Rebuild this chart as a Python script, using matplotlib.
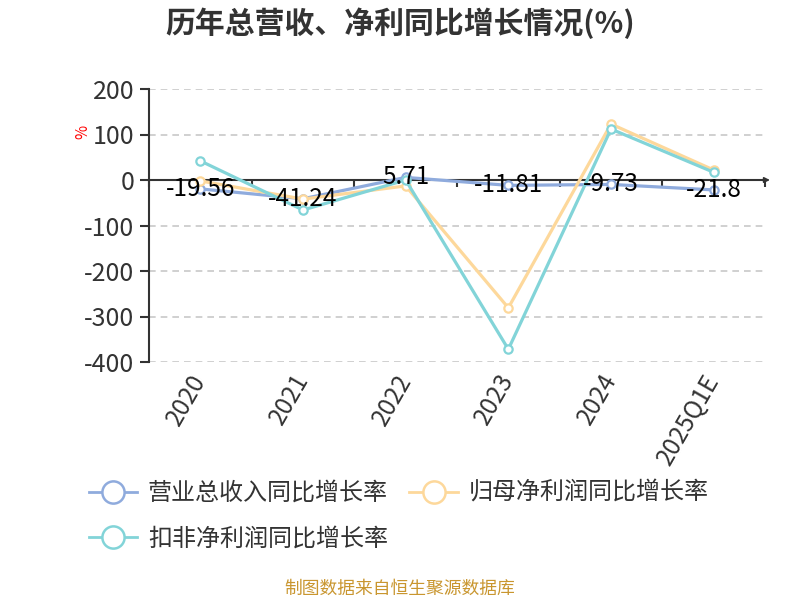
import numpy as np
import matplotlib
matplotlib.use("Agg")
import matplotlib.pyplot as plt
from matplotlib.lines import Line2D

plt.rcParams['font.family'] = ['Noto Sans CJK SC', 'DejaVu Sans']
plt.rcParams['axes.unicode_minus'] = False

# ── data ────────────────────────────────────────────────
categories = ["2020", "2021", "2022", "2023", "2024", "2025Q1E"]
revenue_growth = [-19.56, -41.24, 5.71, -11.81, -9.73, -21.8]
net_profit_growth = [-2, -42, -13, -281, 123, 22]
deducted_profit_growth = [42, -66, 0, -372, 112, 17]
label_texts = ["-19.56", "-41.24", "5.71", "-11.81", "-9.73", "-21.8"]

series_names = ["营业总收入同比增长率", "归母净利润同比增长率", "扣非净利润同比增长率"]
series_colors = ["#8fabdd", "#fdd89b", "#82d4d8"]
y_ticks = [-400, -300, -200, -100, 0, 100, 200]

TEXT = "#333333"

fig = plt.figure(figsize=(8, 6), dpi=100)
ax = fig.add_axes([149 / 800, 1 - 362 / 600, (765 - 149) / 800, (362 - 89) / 600])

x = np.arange(len(categories))
ax.set_xlim(-0.5, len(categories) - 0.5)
ax.set_ylim(min(y_ticks), max(y_ticks))

# grid (no dashed line on zero, the axis sits there)
ax.set_yticks(y_ticks)
ax.yaxis.grid(True, color="#c8c8c8", linestyle=(0, (4, 3)), linewidth=1.2)
ax.set_axisbelow(True)
for tick_val, gl in zip(y_ticks, ax.yaxis.get_gridlines()):
    if tick_val == 0:
        gl.set_visible(False)

for s in ["top", "right", "bottom"]:
    ax.spines[s].set_visible(False)
ax.spines["left"].set_color(TEXT)
ax.spines["left"].set_linewidth(1.5)
ax.tick_params(axis="y", direction="out", length=6.5, width=1.5, color=TEXT,
               labelsize=18, labelcolor=TEXT, pad=4)

ax.set_xticks(x)
ax.set_xticklabels(categories, rotation=60, ha="right", va="center",
                   rotation_mode="anchor", fontsize=17.5, color=TEXT)
ax.tick_params(axis="x", length=0, pad=10)

# zero axis line with boundary ticks
zero_pos = (0 - min(y_ticks)) / (max(y_ticks) - min(y_ticks))
ax.axhline(0, color=TEXT, linewidth=1.5, zorder=2)
sec = ax.secondary_xaxis(zero_pos)
sec.set_alignment("bottom")
sec.set_xticks(np.arange(len(categories) + 1) - 0.5)
sec.set_xticklabels([])
sec.spines["bottom"].set_visible(False)
sec.tick_params(axis="x", direction="out", length=5, width=1.5, color=TEXT)
ax.annotate("", xy=(1.008, zero_pos), xytext=(0.99, zero_pos),
            xycoords="axes fraction",
            arrowprops=dict(arrowstyle="-|>", color=TEXT, lw=1.2,
                            mutation_scale=8, shrinkA=0, shrinkB=0))

# lines
all_series = [revenue_growth, net_profit_growth, deducted_profit_growth]
for i, (vals, col) in enumerate(zip(all_series, series_colors)):
    ax.plot(x, vals, color=col, linewidth=2.3, marker="o", markersize=6,
            markerfacecolor="white", markeredgecolor=col, markeredgewidth=1.6,
            zorder=3 + i, clip_on=False)

for xi, v, t in zip(x, revenue_growth, label_texts):
    ax.text(xi, v, t, ha="center", va="center", fontsize=17.5, color="black",
            zorder=10)

# y unit label
ax.text(-0.108, 0.842, "%", transform=ax.transAxes, rotation=90, color="red",
        fontsize=11, ha="center", va="center")

# title
fig.text(0.5, 1 - 23 / 600, "历年总营收、净利同比增长情况(%)", ha="center", va="center",
         fontsize=21.5, fontweight="bold", color=TEXT)

# legend, row-major order for two columns
handles = [Line2D([0], [0], color=c, linewidth=2, marker="o", markersize=16,
                  markerfacecolor="white", markeredgecolor=c, markeredgewidth=1.8)
           for c in series_colors]
order = [0, 2, 1]
fig.legend([handles[i] for i in order], [series_names[i] for i in order],
           loc="upper left", bbox_to_anchor=(89 / 800, 1 - 480 / 600),
           ncol=2, frameon=False, fontsize=17.3, labelcolor=TEXT, handlelength=2.0,
           handletextpad=0.45, columnspacing=0.9, labelspacing=0.8, borderpad=0,
           borderaxespad=0)

# footer
fig.text(0.5, 1 - 589 / 600, "制图数据来自恒生聚源数据库", ha="center", va="center",
         fontsize=12.8, color="#c9962f")

fig.savefig("out.png", dpi=100)
